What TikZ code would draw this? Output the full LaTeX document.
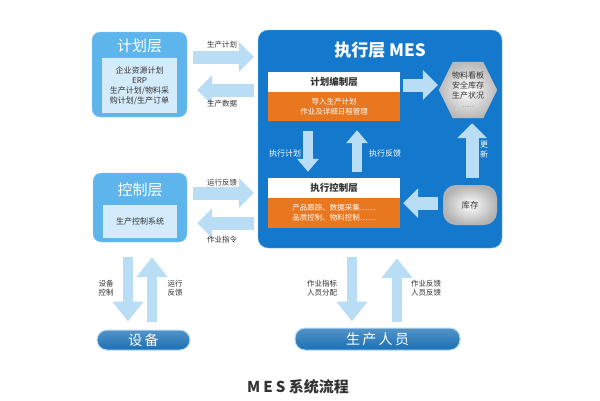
\documentclass[tikz,border=0pt]{standalone}
\usepackage{fontspec}
\setmainfont{Noto Sans CJK SC}
\usetikzlibrary{arrows.meta,calc}
\definecolor{mesblue}{HTML}{1479CC}
\definecolor{layerblue}{HTML}{5DB5EC}
\definecolor{innerblue}{HTML}{D3EBFA}
\definecolor{arrowblue}{HTML}{B9DDF5}
\definecolor{mesorange}{HTML}{E8771F}
\definecolor{pillblue}{HTML}{1A70B5}
\definecolor{txtgray}{HTML}{333333}
\tikzset{layer/.style={fill=layerblue,draw=layerblue!60!white,rounded corners=8pt,inner sep=0pt},
	inbox/.style={fill=innerblue,inner sep=0pt,align=center,text=txtgray,font=\fontsize{8}{10}\selectfont},
	ltitle/.style={text=white,font=\fontsize{15}{15}\selectfont},
	strip/.style={fill=white,inner sep=0pt,minimum width=132pt,minimum height=20pt,text=txtgray,font=\bfseries\fontsize{9.5}{10}\selectfont},
	obox/.style={fill=mesorange,inner sep=0pt,minimum width=132pt,align=center,text=white,font=\fontsize{7.5}{10}\selectfont},
	lbl/.style={text=txtgray,align=center,font=\fontsize{7.5}{9.5}\selectfont},
	wlbl/.style={text=white,align=center,font=\fontsize{8}{10}\selectfont},
	bigarrow/.style={draw=arrowblue,line width=13pt,-{Triangle[length=15pt,width=29pt]}},
	midarrow/.style={draw=arrowblue,line width=10pt,-{Triangle[length=20pt,width=30pt]}},
	smallarrow/.style={draw=arrowblue,line width=10pt,-{Triangle[length=13pt,width=21pt]}},
	pill/.style={top color=pillblue!75!white,bottom color=pillblue,draw=arrowblue,line width=1pt,rounded corners=10pt,inner sep=0pt,text=white,font=\fontsize{14}{14}\selectfont}}

\begin{document}
\begin{tikzpicture}[x=1pt,y=-1pt]
	\useasboundingbox[fill=white] (0,0) rectangle (600,400);
	% left: plan and control layers
	\node[layer,minimum width=95pt,minimum height=85pt] (plan) at (139.5,74.5) {};
	\node[ltitle] (plantitle) at (139.5,46) {计划层};
	\node[inbox,minimum width=75pt,minimum height=55pt] (planin) at (139.5,85.5) {企业资源计划\\ERP\\生产计划/物料采\\购计划/生产订单};
	\node[layer,minimum width=94pt,minimum height=69pt] (ctrl) at (140,207.5) {};
	\node[ltitle] (ctrltitle) at (140,190) {控制层};
	\node[inbox,minimum width=74pt,minimum height=33pt] (ctrlin) at (140,221.5) {生产控制系统};
	% MES
	\node[fill=mesblue,draw=mesblue!50!white,rounded corners=10pt,minimum width=244pt,minimum height=218pt,inner sep=0pt] (mes) at (380,139) {};
	\node[text=white,font=\bfseries\fontsize{17}{17}\selectfont] (mestitle) at (380,50) {执行层 MES};
	\node[strip] (plantop) at (334,82) {计划编制层};
	\node[obox,minimum height=29pt] (planbody) at (334,106.5) {导入生产计划\\作业及详细日程管理};
	\node[strip] (exectop) at (334,188) {执行控制层};
	\node[obox,minimum height=30pt] (execbody) at (334,213) {产品跟踪、数据采集……\\品质控制、物料控制……};
	\node[minimum width=58pt,minimum height=56pt,inner sep=0pt] (hex) at (468,90) {};
	\shade[inner color=white,outer color=gray!55] (hex.west) -- ($(hex.north west)+(14,0)$) -- ($(hex.north east)+(-14,0)$)
		-- (hex.east) -- ($(hex.south east)+(-14,0)$) -- ($(hex.south west)+(14,0)$) -- cycle;
	\node[text=txtgray,align=center,font=\fontsize{8}{10}\selectfont] (hextext) at (468,90) {物料看板\\安全库存\\生产状况\\[-1pt]{\fontsize{5}{5}\selectfont ……}};
	\node[rounded corners=13pt,minimum width=54pt,minimum height=40pt,inner color=white,outer color=gray!60,
		text=txtgray,font=\fontsize{8.5}{8.5}\selectfont] (stock) at (470,205) {库存};
	% bottom
	\node[pill,minimum width=93pt,minimum height=20pt] (dev) at (143.5,340) {设\,备};
	\node[pill,minimum width=165pt,minimum height=22pt] (staff) at (377.5,339) {生\,产\,人\,员};
	\node[text=txtgray,font=\bfseries\fontsize{15}{15}\selectfont] (caption) at (298,387) {M\hspace{3pt}E\hspace{3pt}S 系统流程};

	% arrows
	\draw[bigarrow] ($(plan.east)+(6,-17.5)$) -- ($(mes.west |- plan.east)+(-4,-17.5)$);
	\draw[bigarrow] ($(mes.west |- plan.east)+(-4,15.5)$) -- ($(plan.east)+(10,15.5)$);
	\draw[bigarrow] ($(ctrl.east)+(6,-14.5)$) -- ($(mes.west |- ctrl.east)+(-4,-14.5)$);
	\draw[bigarrow] ($(mes.west |- ctrl.east)+(-4,15.5)$) -- ($(ctrl.east)+(10,15.5)$);
	\draw[bigarrow] ($(plantop.east)+(3,3)$) -- ($(hex.west)+(-1,-5)$);
	\draw[bigarrow] ($(stock.west)+(-5,-2)$) -- ($(execbody.east |- stock.west)+(3,-2)$);
	\draw[bigarrow] ($(stock.north)+(2,-7)$) -- ($(hex.south)+(4,5)$);
	\draw[smallarrow] ($(planbody.south)+(-26,10)$) -- ($(exectop.north)+(-26,-6)$);
	\draw[smallarrow] ($(exectop.north)+(23,-6)$) -- ($(planbody.south)+(23,9)$);
	\draw[midarrow] ($(ctrl.south)+(-12,15)$) -- ($(dev.north)+(-15.5,-8)$);
	\draw[midarrow] ($(dev.north)+(8.5,-8)$) -- ($(ctrl.south)+(12,15)$);
	\draw[midarrow] ($(mes.south)+(-28,9)$) -- ($(staff.north)+(-25.5,-6)$);
	\draw[midarrow] ($(staff.north)+(19.5,-6)$) -- ($(mes.south)+(17,10)$);

	% labels
	\node[lbl] (l1) at (222,45) {生产计划};
	\node[lbl] (l2) at (222,104) {生产数据};
	\node[lbl] (l3) at (222,183) {运行反馈};
	\node[lbl] (l4) at (222,240) {作业指令};
	\node[wlbl] (l5) at (285,153) {执行计划};
	\node[wlbl] (l6) at (385,153) {执行反馈};
	\node[wlbl] (l7) at (484,150) {更\\新};
	\node[lbl] (l8) at (106,288) {设备\\控制};
	\node[lbl] (l9) at (175,288) {运行\\反馈};
	\node[lbl] (l10) at (322,288) {作业指标\\人员分配};
	\node[lbl] (l11) at (426,288) {作业反馈\\人员反馈};
\end{tikzpicture}
\end{document}
